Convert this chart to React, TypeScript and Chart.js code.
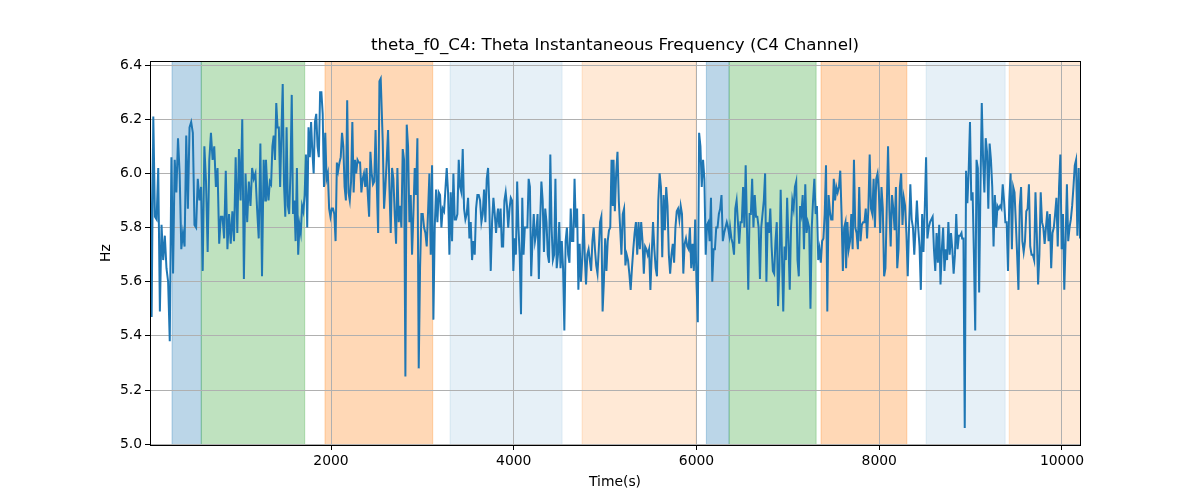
import React, { useEffect, useRef } from 'react'
import Chart from 'chart.js/auto'

const TITLE = 'theta_f0_C4: Theta Instantaneous Frequency (C4 Channel)'

const xTicks = [2000, 4000, 6000, 8000, 10000]
const yTicks = [5.0, 5.2, 5.4, 5.6, 5.8, 6.0, 6.2, 6.4]

// readings (Hz), one array per stretch of the recording
const seg1 = [
  6.11, 5.47, 6.21, 5.84, 5.83, 6.02, 5.49, 5.81, 5.68, 5.77, 5.65, 5.6, 5.38, 6.06, 5.63, 6.05, 5.93, 6.13,
  6.0, 5.72, 5.78, 5.73, 6.14, 5.87, 6.17, 6.19, 6.15, 5.81, 5.8, 5.98, 5.9, 5.95, 5.64, 6.1, 5.97, 5.71,
  6.05, 6.15, 6.05, 6.1, 5.95, 6.02, 5.74, 5.84, 5.84, 5.76, 6.01, 5.72, 5.85, 5.74, 5.86, 5.75, 6.06, 5.78,
  6.09, 5.9, 6.2, 5.61, 6.0, 5.82, 5.97, 5.88, 6.02, 5.98, 6.0, 5.87, 5.76, 6.11, 5.62, 6.05, 5.9,
]
const seg2 = [
  6.05, 5.95, 5.9, 5.97, 5.96, 6.1, 6.14, 6.05, 6.26, 6.17, 6.17, 5.95, 6.15, 6.33, 5.96, 5.84, 6.17, 5.88,
  5.85, 6.0, 6.29, 5.85, 5.9, 5.75, 6.02, 5.7, 5.81, 5.78, 5.88, 5.86, 5.92, 6.07, 5.8, 6.17, 6.06, 6.19,
  6.08, 6.0, 6.19, 6.22, 6.1, 6.06, 6.3, 6.3, 6.22, 5.95, 6.15, 5.98, 6.0, 5.87, 5.84, 5.87, 5.87, 5.85,
  5.75, 6.04, 6.01, 6.04, 6.06, 6.15, 6.1, 5.95, 5.9, 6.27, 5.93, 5.9, 5.97, 6.19, 5.93, 6.05, 6.0, 6.05,
  6.04, 6.04, 5.93, 5.98, 6.0, 5.95, 6.02, 5.92, 5.84, 6.08, 6.0, 5.96, 5.97, 6.16, 5.95, 5.78, 6.34, 6.35,
]
const seg3 = [
  6.12, 5.87, 5.95, 6.05, 6.16, 5.95, 5.78, 6.02, 5.98, 5.85, 5.74, 6.02, 5.82, 5.88, 5.8, 6.09, 6.05, 5.25,
  6.18, 6.1, 5.82, 5.92, 5.7, 5.85, 6.02, 5.92, 6.13, 5.28, 5.65, 5.85, 5.85, 5.8, 5.78, 5.73, 5.86, 6.0,
  5.7, 6.03, 5.46, 5.8, 5.94, 5.82, 5.93, 5.92, 5.8, 5.87, 5.86, 5.94, 6.02, 5.93, 5.7, 5.93, 5.75, 6.0,
  5.83, 5.83, 5.85, 6.05, 5.95, 5.93, 6.09, 5.87, 5.83, 5.85, 5.91, 5.76, 5.82, 5.68, 5.75, 5.7, 5.87, 5.92,
  5.92, 5.9, 5.82, 5.85, 5.94, 5.82, 5.98, 6.02, 5.87, 5.64, 5.82, 5.91, 5.85, 5.78, 5.85,
]
const seg4 = [
  5.87, 5.8, 5.87, 5.73, 5.73, 5.9, 5.93, 5.88, 5.8, 5.87, 5.91, 5.9, 5.64, 5.76, 5.7, 5.97, 5.8, 5.7,
  5.48, 5.91, 5.7, 5.8, 5.8, 5.8, 5.98, 5.95, 5.62, 5.75, 5.85, 5.75, 5.78, 5.85, 5.61, 5.82, 5.97, 5.9,
  5.71, 5.87, 5.82, 5.7, 5.67, 6.07, 5.8, 5.68, 5.7, 5.98, 5.65, 5.7, 5.82, 5.65, 5.75, 5.65, 5.42, 5.75,
  5.8, 5.7, 5.67, 5.87, 5.75, 5.75, 5.98, 5.8, 5.87, 5.57, 5.74, 5.6, 5.68, 5.85, 5.7, 5.59, 5.7, 5.72,
  5.68, 5.64, 5.75, 5.8, 5.72, 5.66, 5.63, 5.72, 5.82, 5.84, 5.49, 5.6, 5.76, 5.64, 5.75, 5.79, 5.8, 6.05, 5.88,
]
const seg5 = [
  6.05, 5.86, 6.0, 6.08, 5.9, 5.8, 5.7, 5.85, 5.87, 5.66, 5.7, 5.68, 5.63, 5.57, 5.65, 5.72, 5.78, 5.82,
  5.7, 5.82, 5.72, 5.82, 5.75, 5.63, 5.73, 5.72, 5.7, 5.72, 5.57, 5.7, 5.82, 5.72, 5.65, 5.62, 5.9, 6.0,
  5.95, 5.69, 5.92, 5.79, 5.95, 5.88, 5.7, 5.63, 5.7, 5.74, 5.67, 5.8, 5.86, 5.87, 5.83, 5.88, 5.85, 5.63,
  5.74, 5.76, 5.73, 5.72, 5.8, 5.65, 5.74, 5.64, 5.83, 5.6, 5.45, 6.15, 6.1, 5.95, 6.05, 5.98, 5.7, 5.81,
  5.82, 5.75, 5.91, 5.6, 5.72, 5.72, 5.8, 5.8, 5.85, 5.87, 5.92, 5.75, 5.78, 5.8, 5.82, 5.8, 5.77,
]
const seg6 = [
  5.8, 5.76, 5.74, 5.7, 5.87, 5.9, 5.82, 5.74, 5.82, 5.82, 5.95, 5.8, 6.03, 5.8, 5.57, 5.85, 5.85, 5.98,
  5.8, 5.92, 5.84, 5.84, 5.8, 5.61, 5.8, 5.85, 5.9, 6.0, 5.6, 5.82, 5.78, 5.87, 5.73, 5.64, 5.63, 5.75,
  5.82, 5.51, 5.65, 5.94, 5.7, 5.49, 5.73, 5.68, 5.91, 5.75, 5.57, 5.8, 5.9, 5.87, 5.95, 5.97, 5.68, 5.62,
  5.88, 5.85, 5.92, 5.72, 5.96, 5.78, 5.82, 5.8, 5.5, 5.8, 5.9, 5.98, 5.85, 5.88, 5.68, 5.72, 5.67, 5.75,
  5.76, 5.85, 6.03, 5.49, 5.92, 5.86, 5.83, 5.83, 5.98, 5.9, 5.95, 5.93, 5.95, 6.01, 5.85, 5.64, 5.8, 5.82,
]
const seg7 = [
  5.65, 5.82, 5.72, 5.75, 5.85, 5.72, 6.05, 5.8, 5.78, 5.72, 5.95, 5.75, 5.81, 5.82, 5.82, 5.87, 5.76, 5.87,
  6.07, 5.87, 5.85, 5.98, 5.8, 5.98, 6.0, 5.93, 5.78, 5.95, 5.87, 5.62, 5.65, 5.87, 6.1, 5.87, 5.73, 5.92,
  5.87, 5.79, 5.95, 5.65, 5.72, 5.95, 6.0, 5.81, 5.91, 5.88, 5.78, 5.62, 5.8, 5.96, 5.83, 5.8, 5.7, 5.8,
  5.9, 5.8, 5.73, 5.57, 5.85, 5.71, 5.87, 6.06, 5.76, 5.8, 5.82, 5.83, 5.84, 5.72, 5.64, 5.78, 5.67, 5.81,
  5.59, 5.72, 5.8, 5.64, 5.72, 5.68, 5.82, 5.7, 5.78, 5.72, 5.63, 5.7, 5.85, 5.72, 5.77, 5.77, 5.78,
]
const seg8 = [
  5.76, 5.76, 5.06, 6.01, 5.89, 6.01, 6.19, 5.9, 5.93, 5.7, 5.42, 6.05, 6.02, 5.56, 5.95, 6.26, 6.05, 5.93,
  6.13, 6.08, 5.87, 6.11, 6.05, 5.95, 5.73, 5.92, 5.8, 5.88, 5.87, 5.88, 5.87, 5.96, 5.9, 5.82, 5.82, 5.64,
  5.9, 6.0, 5.72, 5.95, 5.93, 5.82, 5.7, 5.57, 5.88, 5.95, 5.75, 5.71, 5.75, 5.86, 5.87, 5.96, 5.73, 5.7,
  5.7, 5.68, 5.93, 5.78, 5.59, 5.7, 5.93, 5.82, 5.8, 5.74, 5.8, 5.86, 5.75, 5.85, 5.65, 5.78, 5.8, 5.85,
  5.91, 5.73, 5.95, 6.07, 5.72, 5.85, 5.57, 5.75, 5.96, 5.75, 5.8, 5.83, 5.88, 5.95, 6.03, 6.05, 5.77, 6.02, 5.76,
]
const segments = [seg1, seg2, seg3, seg4, seg5, seg6, seg7, seg8]

// first and last time (s) of each stretch, samples evenly spaced inside
const segmentStart = [19, 1288, 2566, 3828, 5092, 6368, 7637, 8907]
const segmentEnd = [1281, 2544, 3821, 5084, 6360, 7630, 8900, 10197]

// shaded intervals (s)
const spanStart = [260, 580, 1934, 3303, 4748, 6108, 6357, 7363, 8513, 9422]
const spanEnd = [580, 1712, 3113, 4529, 5995, 6357, 7309, 8302, 9378, 10300]
const spanKind = ['blue', 'green', 'orange', 'blueLight', 'orangeLight', 'blue', 'green', 'orange', 'blueLight', 'orangeLight']

const X_MIN = 19
const X_MAX = 10197
const Y_MIN = 4.997
const Y_MAX = 6.415

const spanColors: Record<string, string> = {
  blue: 'rgba(31, 119, 180, 0.3)',
  green: 'rgba(44, 160, 44, 0.3)',
  orange: 'rgba(255, 127, 14, 0.3)',
  blueLight: 'rgba(31, 119, 180, 0.11)',
  orangeLight: 'rgba(255, 127, 14, 0.17)',
}

const FONT = 'DejaVu Sans'

const spansPlugin = {
  id: 'spans',
  beforeDraw(chart: any) {
    const { ctx, chartArea } = chart
    const xs = chart.scales.x
    ctx.save()
    ctx.beginPath()
    ctx.rect(chartArea.left, chartArea.top, chartArea.right - chartArea.left, chartArea.bottom - chartArea.top)
    ctx.clip()
    spanStart.forEach((s, i) => {
      const x0 = xs.getPixelForValue(s)
      const x1 = xs.getPixelForValue(spanEnd[i])
      ctx.fillStyle = spanColors[spanKind[i]]
      ctx.fillRect(x0, chartArea.top, x1 - x0, chartArea.bottom - chartArea.top)
      ctx.strokeStyle = spanColors[spanKind[i]]
      ctx.lineWidth = 1
      ctx.strokeRect(x0, chartArea.top, x1 - x0, chartArea.bottom - chartArea.top)
    })
    ctx.restore()
  },
}

const framePlugin = {
  id: 'frame',
  afterDraw(chart: any) {
    const { ctx, chartArea } = chart
    ctx.save()
    ctx.strokeStyle = '#000'
    ctx.lineWidth = 1
    const l = Math.round(chartArea.left) + 0.5
    const r = Math.round(chartArea.right) + 0.5
    const t = Math.round(chartArea.top) + 0.5
    const b = Math.round(chartArea.bottom) + 0.5
    ctx.strokeRect(l, t, r - l, b - t)
    ctx.restore()
  },
}

export default function App() {
  const canvasRef = useRef<HTMLCanvasElement>(null)
  const chartRef = useRef<Chart | null>(null)

  useEffect(() => {
    document.body.style.margin = '0'
    if (!canvasRef.current) return
    if (chartRef.current) chartRef.current.destroy()

    const points = segments.flatMap((vals, s) => {
      const t0 = segmentStart[s]
      const t1 = segmentEnd[s]
      return vals.map((v, i) => ({ x: t0 + ((t1 - t0) * i) / (vals.length - 1), y: v }))
    })

    const tickFont = { family: FONT, size: 13.9 }

    chartRef.current = new Chart(canvasRef.current, {
      type: 'line',
      data: {
        datasets: [
          {
            data: points,
            borderColor: '#1f77b4',
            borderWidth: 2,
            pointRadius: 0,
            tension: 0,
            fill: false,
          },
        ],
      },
      options: {
        responsive: false,
        animation: false,
        events: [],
        layout: { padding: { left: 0, right: 120, top: 0, bottom: 0 } },
        scales: {
          x: {
            type: 'linear',
            min: X_MIN,
            max: X_MAX,
            afterBuildTicks: (scale: any) => {
              scale.ticks = xTicks.map(value => ({ value }))
            },
            afterFit: (scale: any) => {
              scale.height = 55
            },
            ticks: {
              callback: (v: any) => String(v),
              font: tickFont,
              color: '#000',
              padding: 3,
              maxRotation: 0,
              autoSkip: false,
            },
            grid: { color: '#b0b0b0', lineWidth: 1, tickColor: '#000', tickLength: 5 },
            border: { display: false },
            title: {
              display: true,
              text: 'Time(s)',
              font: tickFont,
              color: '#000',
              padding: { top: 0, bottom: 9 },
            },
          },
          y: {
            type: 'linear',
            min: Y_MIN,
            max: Y_MAX,
            afterBuildTicks: (scale: any) => {
              scale.ticks = yTicks.map(value => ({ value }))
            },
            afterFit: (scale: any) => {
              scale.width = 150
            },
            ticks: {
              callback: (v: any) => Number(v).toFixed(1),
              font: tickFont,
              color: '#000',
              padding: 3,
            },
            grid: { color: '#b0b0b0', lineWidth: 1, tickColor: '#000', tickLength: 5 },
            border: { display: false },
            title: {
              display: true,
              text: 'Hz',
              font: tickFont,
              color: '#000',
              padding: { top: 98, bottom: 0 },
            },
          },
        },
        plugins: {
          legend: { display: false },
          tooltip: { enabled: false },
          title: {
            display: true,
            text: TITLE,
            fullSize: false,
            color: '#000',
            font: { family: FONT, size: 16.7, weight: 'normal' },
            padding: { top: 36, bottom: 5 },
          },
        },
      },
      plugins: [spansPlugin, framePlugin],
    })

    return () => {
      if (chartRef.current) chartRef.current.destroy()
      chartRef.current = null
    }
  }, [])

  return (
    <div style={{ position: 'absolute', left: 0, top: 0, width: 1200, height: 500, background: '#fff' }}>
      <canvas ref={canvasRef} width={1200} height={500}></canvas>
    </div>
  )
}
